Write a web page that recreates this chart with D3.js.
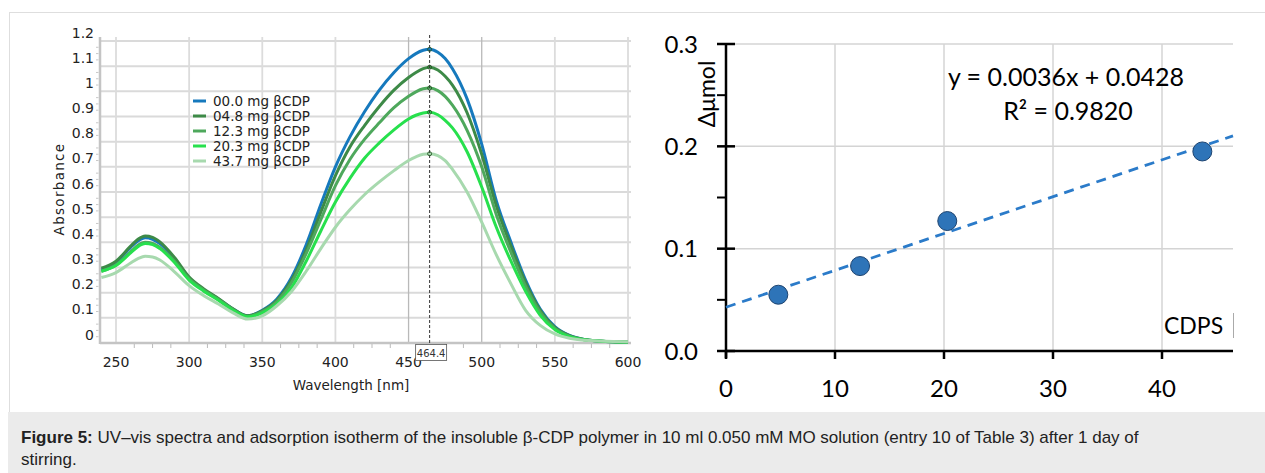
<!DOCTYPE html>
<html><head><meta charset="utf-8">
<script src="https://cdn.jsdelivr.net/npm/d3@7"></script>
<style>
html,body{margin:0;padding:0;background:#fff;}
svg{display:block;}
</style></head>
<body>
<svg id="c" width="1265" height="473"></svg>
<script>
// ---------- DATA ----------
const wavelengths = [240,250,260,265,270,275,280,290,300,310,320,330,340,350,360,370,380,390,400,410,420,430,440,450,455,460,464.4,470,475,480,490,500,510,520,530,540,550,560,570,580,590,600];
const abs00 = [0.29,0.32,0.38,0.405,0.418,0.412,0.395,0.335,0.258,0.212,0.175,0.135,0.108,
  0.13,0.175,0.26,0.39,0.55,0.70,0.82,0.92,1.005,1.075,1.13,1.15,1.163,
  1.167,
  1.155,1.13,1.09,0.97,0.79,0.565,0.40,0.25,0.135,0.065,0.03,0.014,0.008,0.005,0.004];
const abs048 = [0.297,0.325,0.385,0.412,0.425,0.42,0.402,0.34,0.262,0.215,0.177,0.136,0.108,
  0.128,0.17,0.25,0.37,0.52,0.665,0.78,0.865,0.94,1.005,1.055,1.075,1.09,
  1.096,
  1.085,1.06,1.025,0.915,0.75,0.545,0.385,0.24,0.13,0.062,0.029,0.014,0.008,0.005,0.004];
const abs123 = [0.285,0.31,0.362,0.388,0.4,0.396,0.38,0.325,0.255,0.21,0.173,0.133,0.105,
  0.125,0.165,0.24,0.355,0.49,0.625,0.73,0.81,0.875,0.935,0.98,0.998,1.01,
  1.013,
  1.003,0.98,0.945,0.845,0.70,0.51,0.36,0.225,0.122,0.058,0.027,0.013,0.008,0.005,0.004];
const abs203 = [0.285,0.308,0.358,0.383,0.395,0.391,0.375,0.32,0.25,0.206,0.17,0.13,0.104,
  0.12,0.155,0.22,0.325,0.445,0.56,0.655,0.735,0.795,0.847,0.89,0.905,0.914,
  0.917,
  0.907,0.885,0.855,0.76,0.62,0.46,0.325,0.205,0.11,0.053,0.025,0.013,0.008,0.005,0.004];
const abs437 = [0.26,0.28,0.318,0.335,0.345,0.342,0.33,0.283,0.228,0.188,0.155,0.12,0.095,
  0.108,0.148,0.205,0.285,0.375,0.46,0.53,0.59,0.64,0.685,0.725,0.74,0.75,
  0.752,
  0.745,0.725,0.69,0.60,0.48,0.35,0.235,0.13,0.07,0.036,0.019,0.011,0.008,0.006,0.005];
const seriesNames = ["00.0 mg \u03B2CDP","04.8 mg \u03B2CDP","12.3 mg \u03B2CDP","20.3 mg \u03B2CDP","43.7 mg \u03B2CDP"];
const seriesValues = [abs00, abs048, abs123, abs203, abs437];
const seriesColors = ["#1679bd","#3d8a47","#4ea85c","#27e04d","#a7d9ae"];
const xTicksL = [250,300,350,400,450,500,550,600];
const yTicksL = [0,0.1,0.2,0.3,0.4,0.5,0.6,0.7,0.8,0.9,1,1.1,1.2];
const markerWavelength = 464.4;

const cdpMass = [4.8, 12.3, 20.3, 43.7];
const deltaMicromol = [0.055, 0.083, 0.127, 0.195];
const fitSlope = 0.0036, fitIntercept = 0.0428;
const xTicksR = [0,10,20,30,40];
const yTicksR = [0.0,0.1,0.2,0.3];

// ---------- SETUP ----------
const svg = d3.select("#c");
svg.append("line").attr("x1",9).attr("x2",1265).attr("y1",12.5).attr("y2",12.5).attr("stroke","#dedede").attr("stroke-width",1);
svg.append("line").attr("x1",9.5).attr("x2",9.5).attr("y1",12).attr("y2",412).attr("stroke","#dedede").attr("stroke-width",1);
svg.append("rect").attr("x",8).attr("y",412).attr("width",1257).attr("height",61).attr("fill","#ebebeb");
const capFont = "'Liberation Sans', Arial, Helvetica, sans-serif";
const cap = svg.append("text").attr("x",21).attr("y",443).attr("font-family",capFont).attr("font-size",17).attr("fill","#222");
cap.append("tspan").attr("font-weight","bold").text("Figure 5:");
cap.append("tspan").text(" UV\u2013vis spectra and adsorption isotherm of the insoluble \u03B2-CDP polymer in 10 ml 0.050 mM MO solution (entry 10 of Table 3) after 1 day of");
svg.append("text").attr("x",21).attr("y",465).attr("font-family",capFont).attr("font-size",17).attr("fill","#222").text("stirring.");

// ---------- LEFT CHART ----------
const xL = d3.scaleLinear().domain([250,600]).range([116,628]);
const yL = d3.scaleLinear().domain([0,1.2]).range([343,41]);
const L = svg.append("g");
const fontL = "'DejaVu Sans', Verdana, sans-serif";
L.selectAll(".hg").data(yTicksL.slice(1)).enter().append("line")
  .attr("x1",100).attr("x2",631).attr("y1",d=>yL(d)).attr("y2",d=>yL(d))
  .attr("stroke","#dadada").attr("stroke-width",2);
L.selectAll(".vg").data(xTicksL).enter().append("line")
  .attr("x1",d=>xL(d)).attr("x2",d=>xL(d)).attr("y1",37).attr("y2",343)
  .attr("stroke",d=>(d===450||d===500)?"#b9b9b9":"#dcdcdc").attr("stroke-width",d=>(d===450||d===500)?1.3:1.8);
L.append("line").attr("x1",100).attr("x2",631).attr("y1",343).attr("y2",343).attr("stroke","#c4c4c4").attr("stroke-width",2.5);
L.append("line").attr("x1",100).attr("x2",100).attr("y1",37).attr("y2",344).attr("stroke","#c4c4c4").attr("stroke-width",2.5);
const minorX = d3.range(250-12.5, 600.1, 12.5).filter(v=>v>239 && xTicksL.indexOf(v)<0);
L.selectAll(".mx").data(minorX).enter().append("line")
  .attr("x1",d=>xL(d)).attr("x2",d=>xL(d)).attr("y1",344).attr("y2",348).attr("stroke","#bbb").attr("stroke-width",1);
const minorY = d3.range(0.025,1.2,0.025).filter(v=>Math.abs(v*10-Math.round(v*10))>0.01);
L.selectAll(".my").data(minorY).enter().append("line")
  .attr("x1",96).attr("x2",98.5).attr("y1",d=>yL(d)).attr("y2",d=>yL(d)).attr("stroke","#c8c8c8").attr("stroke-width",1);
L.selectAll(".xl").data(xTicksL).enter().append("text")
  .attr("x",d=>xL(d)).attr("y",367).attr("text-anchor","middle")
  .attr("font-family",fontL).attr("font-size",14).attr("fill","#222").text(d=>d);
L.selectAll(".yl").data(yTicksL).enter().append("text")
  .attr("x",94).attr("y",d=>yL(d)-3.5).attr("text-anchor","end")
  .attr("font-family",fontL).attr("font-size",14).attr("fill","#222").text(d=>d3.format("")(d));
L.append("text").attr("x",351).attr("y",390).attr("text-anchor","middle").attr("font-family",fontL).attr("font-size",13.5).attr("fill","#222").text("Wavelength [nm]");
L.append("text").attr("transform","translate(64,189) rotate(-90)").attr("text-anchor","middle").attr("font-family",fontL).attr("font-size",13.5).attr("letter-spacing",1.3).attr("fill","#222").text("Absorbance");
const line = d3.line().x((d,i)=>xL(wavelengths[i])).y(d=>yL(d)).curve(d3.curveMonotoneX);
seriesValues.forEach((vals,k)=>{
  L.append("path").attr("d",line(vals)).attr("fill","none").attr("stroke",seriesColors[k]).attr("stroke-width",3).attr("stroke-linejoin","round");
});
L.append("line").attr("x1",xL(markerWavelength)).attr("x2",xL(markerWavelength)).attr("y1",35).attr("y2",345)
  .attr("stroke","#333").attr("stroke-width",1).attr("stroke-dasharray","3,2");
const mi = wavelengths.indexOf(markerWavelength);
seriesValues.forEach((vals,k)=>{
  L.append("circle").attr("cx",xL(markerWavelength)).attr("cy",yL(vals[mi])).attr("r",2).attr("fill","none").attr("stroke","#225522").attr("stroke-width",0.9);
});
L.append("rect").attr("x",xL(markerWavelength)-14).attr("y",344.5).attr("width",31).attr("height",16).attr("fill","#fff").attr("stroke","#555").attr("stroke-width",0.8);
L.append("text").attr("x",xL(markerWavelength)+1.5).attr("y",356.5).attr("text-anchor","middle").attr("font-family",fontL).attr("font-size",10).attr("fill","#333").text(markerWavelength);
seriesNames.forEach((n,k)=>{
  const yy = 101 + k*15;
  L.append("line").attr("x1",193).attr("x2",206).attr("y1",yy).attr("y2",yy).attr("stroke",seriesColors[k]).attr("stroke-width",3);
  L.append("text").attr("x",213).attr("y",yy+5).attr("font-family",fontL).attr("font-size",13.5).attr("fill","#222").text(n);
});

// ---------- RIGHT CHART ----------
const xR = d3.scaleLinear().domain([0,40]).range([726,1162]);
const yR = d3.scaleLinear().domain([0,0.3]).range([351,44]);
const R = svg.append("g");
const fontR = "Lato, 'Open Sans', sans-serif";
const xEnd = xR.invert(1233);
R.selectAll(".hg").data(yTicksR.slice(1)).enter().append("line")
  .attr("x1",726).attr("x2",1233).attr("y1",d=>yR(d)).attr("y2",d=>yR(d)).attr("stroke","#d4d4d4").attr("stroke-width",1.5);
R.selectAll(".vg").data(xTicksR.slice(1)).enter().append("line")
  .attr("x1",d=>xR(d)).attr("x2",d=>xR(d)).attr("y1",44).attr("y2",351).attr("stroke","#d4d4d4").attr("stroke-width",1.5);
R.append("line").attr("x1",726).attr("x2",1233).attr("y1",351).attr("y2",351).attr("stroke","#000").attr("stroke-width",2.5);
R.append("line").attr("x1",726).attr("x2",726).attr("y1",43).attr("y2",358).attr("stroke","#000").attr("stroke-width",2.5);
R.selectAll(".yt").data(yTicksR).enter().append("line")
  .attr("x1",717).attr("x2",735).attr("y1",d=>yR(d)).attr("y2",d=>yR(d)).attr("stroke","#000").attr("stroke-width",2.5);
R.selectAll(".ym").data([0.05,0.15,0.25]).enter().append("line")
  .attr("x1",717).attr("x2",726).attr("y1",d=>yR(d)).attr("y2",d=>yR(d)).attr("stroke","#000").attr("stroke-width",2);
R.selectAll(".xt").data(xTicksR).enter().append("line")
  .attr("x1",d=>xR(d)).attr("x2",d=>xR(d)).attr("y1",351).attr("y2",359).attr("stroke","#000").attr("stroke-width",2.5);
R.selectAll(".yl").data(yTicksR).enter().append("text")
  .attr("x",698).attr("y",d=>yR(d)+8.5).attr("text-anchor","end").attr("font-family",fontR).attr("font-size",24).attr("fill","#000").text(d=>d3.format(".1f")(d));
R.selectAll(".xl").data(xTicksR).enter().append("text")
  .attr("x",d=>xR(d)).attr("y",397).attr("text-anchor","middle").attr("font-family",fontR).attr("font-size",24).attr("fill","#000").text(d=>d);
R.append("text").attr("transform","translate(715,94) rotate(-90)").attr("text-anchor","middle").attr("font-family",fontR).attr("font-size",23).attr("fill","#000").text("\u0394\u03BCmol");
R.append("line").attr("x1",xR(0)).attr("x2",xR(xEnd)).attr("y1",yR(fitIntercept)).attr("y2",yR(fitIntercept+fitSlope*xEnd))
  .attr("stroke","#2b7bc9").attr("stroke-width",2.8).attr("stroke-dasharray","10,7");
R.selectAll(".pt").data(cdpMass).enter().append("circle")
  .attr("cx",d=>xR(d)).attr("cy",(d,i)=>yR(deltaMicromol[i])).attr("r",9.5)
  .attr("fill","#2e74b8").attr("stroke","#1e4470").attr("stroke-width",1);
R.append("text").attr("x",1066).attr("y",86).attr("text-anchor","middle").attr("font-family",fontR).attr("font-size",25).attr("fill","#000").text("y = 0.0036x + 0.0428");
R.append("text").attr("x",1068).attr("y",120).attr("text-anchor","middle").attr("font-family",fontR).attr("font-size",25).attr("fill","#000").text("R\u00B2 = 0.9820");
R.append("text").attr("x",1164).attr("y",334).attr("font-family",fontR).attr("font-size",23).attr("fill","#000").text("CDPS");
R.append("line").attr("x1",1233.5).attr("x2",1233.5).attr("y1",313).attr("y2",338).attr("stroke","#aaa").attr("stroke-width",1);
</script>
</body></html>
